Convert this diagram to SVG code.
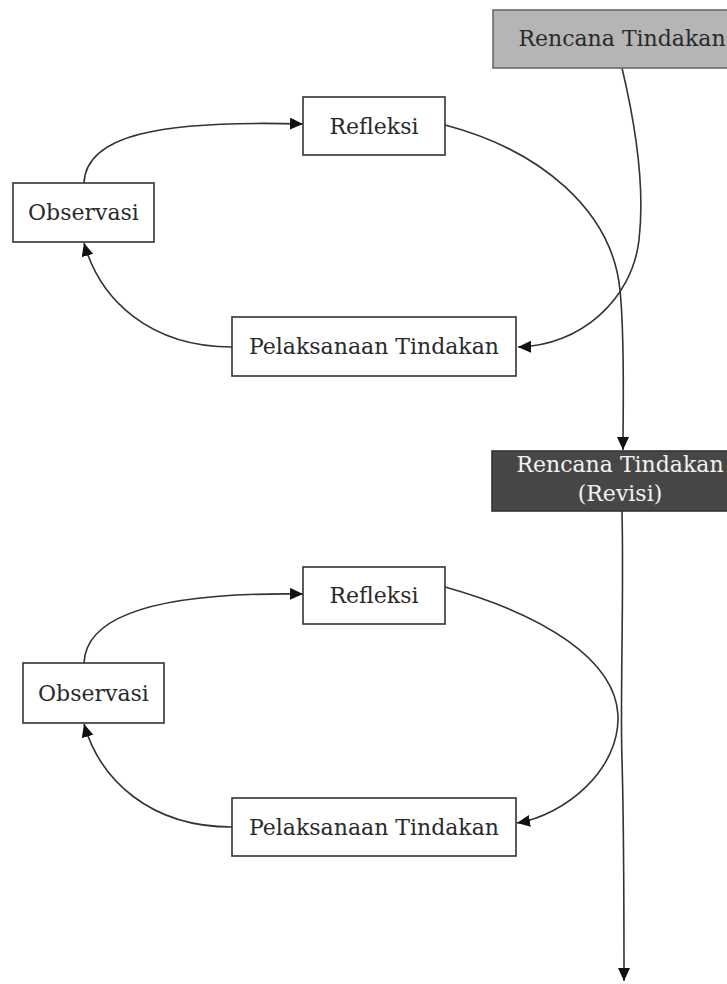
<svg xmlns="http://www.w3.org/2000/svg" width="727" height="984" viewBox="0 0 727 984">
<style>
.box{fill:#ffffff;stroke:#333333;stroke-width:1.6}
.plan{fill:#b5b5b5;stroke:#6a6a6a;stroke-width:1.6}
.rev{fill:#474747;stroke:#333333;stroke-width:1.6}
.t{font-family:"DejaVu Serif","Liberation Serif",serif;font-size:22px;fill:#2a2a2a;text-anchor:middle}
.tw{font-family:"DejaVu Serif","Liberation Serif",serif;font-size:22px;fill:#f2f2f2;text-anchor:middle}
.c{fill:none;stroke:#333333;stroke-width:1.6}
</style>
<defs>
<marker id="arr" markerUnits="userSpaceOnUse" markerWidth="16" markerHeight="14" refX="13" refY="6" orient="auto">
<path d="M0,0 L13,6 L0,12 Z" fill="#111111"/>
</marker>
</defs>
<rect width="727" height="984" fill="#ffffff"/>

<g id="connectors">
<path class="c" d="M622,68 C632,110 646,180 639,240 C632,300 580,346 518,347" marker-end="url(#arr)"/>
<path class="c" d="M445,125 C540,150 612,210 620,290 C625,340 623,400 623,450" marker-end="url(#arr)"/>
<path class="c" d="M84,183 C86,135 160,120 303,124" marker-end="url(#arr)"/>
<path class="c" d="M232,347 C150,347 100,300 84,243" marker-end="url(#arr)"/>
<path class="c" d="M622,511 C624,600 620,700 622,760 C624,830 624,900 624,981" marker-end="url(#arr)"/>
<path class="c" d="M445,587 C545,615 615,660 618,715 C620,770 565,815 517,823" marker-end="url(#arr)"/>
<path class="c" d="M84,663 C86,615 160,592 303,594" marker-end="url(#arr)"/>
<path class="c" d="M232,827 C150,827 100,780 84,724" marker-end="url(#arr)"/>
</g>

<g id="rencana-tindakan">
<rect class="plan" x="493" y="10" width="260" height="58"/>
<text class="t" x="622" y="46">Rencana Tindakan</text>
</g>
<g id="refleksi-1">
<rect class="box" x="303" y="97" width="142" height="58"/>
<text class="t" x="374" y="134">Refleksi</text>
</g>
<g id="observasi-1">
<rect class="box" x="13" y="183" width="141" height="59"/>
<text class="t" x="83.5" y="220">Observasi</text>
</g>
<g id="pelaksanaan-1">
<rect class="box" x="232" y="317" width="284" height="59"/>
<text class="t" x="374" y="354">Pelaksanaan Tindakan</text>
</g>
<g id="rencana-revisi">
<rect class="rev" x="492" y="451" width="260" height="60"/>
<text class="tw" x="620" y="472">Rencana Tindakan</text>
<text class="tw" x="620" y="501">(Revisi)</text>
</g>
<g id="refleksi-2">
<rect class="box" x="303" y="567" width="142" height="57"/>
<text class="t" x="374" y="603">Refleksi</text>
</g>
<g id="observasi-2">
<rect class="box" x="23" y="663" width="141" height="60"/>
<text class="t" x="93.5" y="701">Observasi</text>
</g>
<g id="pelaksanaan-2">
<rect class="box" x="232" y="798" width="284" height="58"/>
<text class="t" x="374" y="835">Pelaksanaan Tindakan</text>
</g>
</svg>
